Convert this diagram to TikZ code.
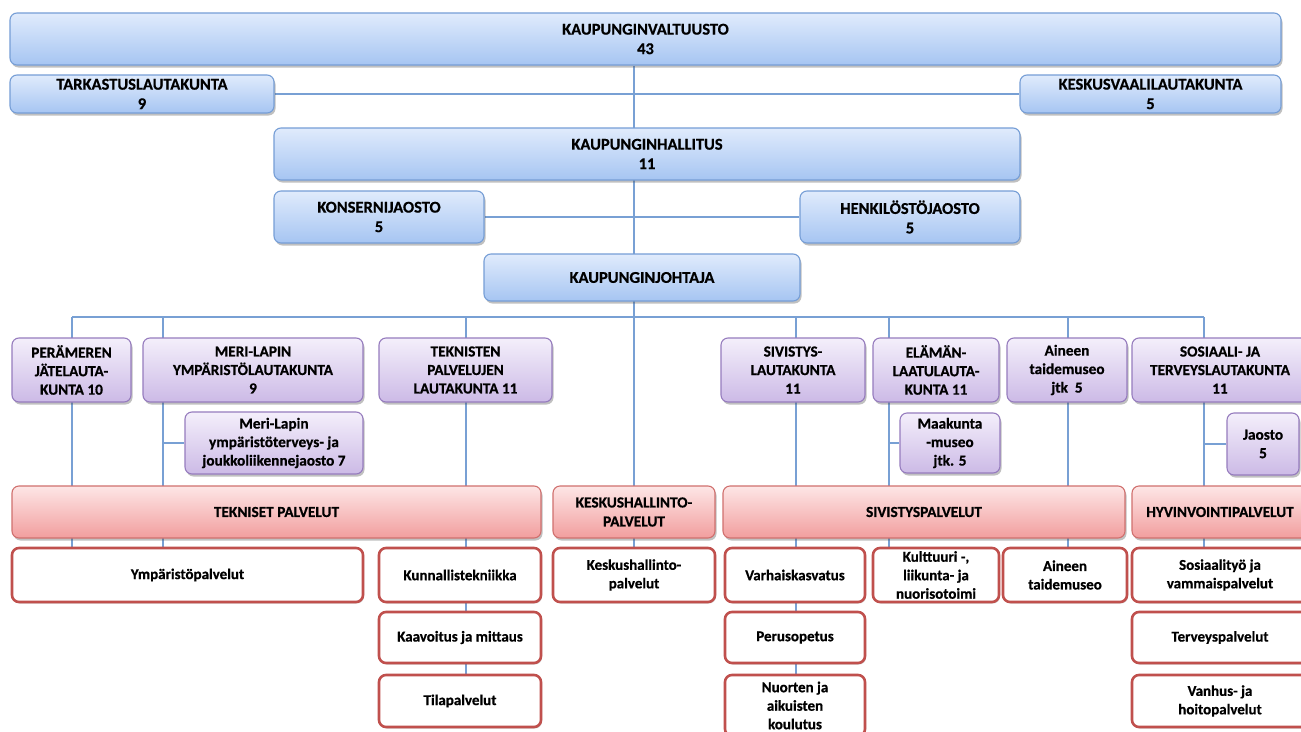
\documentclass[tikz,border=0pt]{standalone}
\usepackage{fontspec}
\setmainfont{Carlito}[BoldFeatures={FakeBold=0.6}]
\usetikzlibrary{shadows}
\pgfdeclarelayer{back}
\pgfdeclarelayer{bg}
\pgfsetlayers{back,bg,main}
\definecolor{conncol}{RGB}{120,160,212}
\definecolor{bluetop}{RGB}{224,235,252}
\definecolor{bluebot}{RGB}{166,197,242}
\definecolor{bluebd}{RGB}{118,158,214}
\definecolor{purtop}{RGB}{244,239,251}
\definecolor{purbot}{RGB}{204,186,230}
\definecolor{purbd}{RGB}{150,124,190}
\definecolor{redtop}{RGB}{253,230,230}
\definecolor{redbot}{RGB}{242,158,158}
\definecolor{redbd}{RGB}{208,112,110}
\definecolor{whitebd}{RGB}{192,80,77}
\tikzset{
  x=1pt, y=-1pt,
  basebox/.style={rounded corners=7pt, inner sep=0pt, align=center, text=black,
    font=\bfseries\fontsize{15}{18.5}\selectfont},
  bluebox/.style={basebox, draw=bluebd, line width=1.1pt, top color=bluetop, bottom color=bluebot,
    drop shadow={shadow xshift=1.5pt, shadow yshift=-2.5pt, opacity=.35, fill=black!70},
    font=\bfseries\fontsize{16.5}{19.5}\selectfont},
  purbox/.style={basebox, draw=purbd, line width=1.1pt, top color=purtop, bottom color=purbot,
    drop shadow={shadow xshift=1.5pt, shadow yshift=-2.5pt, opacity=.35, fill=black!70},
    font=\bfseries\fontsize{15.3}{18.5}\selectfont},
  redbox/.style={basebox, draw=redbd, line width=1.1pt, top color=redtop, bottom color=redbot,
    drop shadow={shadow xshift=1.5pt, shadow yshift=-2.5pt, opacity=.35, fill=black!70},
    font=\bfseries\fontsize{15.3}{19}\selectfont},
  whitebox/.style={basebox, draw=whitebd, line width=2.6pt, fill=white,
    drop shadow={shadow xshift=1pt, shadow yshift=-1.5pt, opacity=.25, fill=black!70}},
  conn/.style={draw=conncol, line width=1.4pt}
}
\newcommand{\bx}[7]{\node[#1, minimum width={(#5-#3)*1pt}, minimum height={(#6-#4)*1pt}] (#2) at ({(#3+#5)/2},{(#4+#6)/2}) {#7};}
\begin{document}
\begin{tikzpicture}
\useasboundingbox (0,0) rectangle (1301,731);
\begin{pgfonlayer}{back}
\fill[white] (0,0) rectangle (1301,731);
\end{pgfonlayer}
\clip (0,0) rectangle (1301,731);
% blue
\bx{bluebox}{kv}{10}{13}{1281}{65}{KAUPUNGINVALTUUSTO\\43}
\bx{bluebox}{tark}{10}{75}{274}{113}{TARKASTUSLAUTAKUNTA\\9}
\bx{bluebox}{ksv}{1020}{75}{1281}{113}{KESKUSVAALILAUTAKUNTA\\5}
\bx{bluebox}{kh}{274}{128}{1020}{180}{KAUPUNGINHALLITUS\\11}
\bx{bluebox}{kons}{274}{191}{484}{243}{KONSERNIJAOSTO\\5}
\bx{bluebox}{henk}{800}{191}{1020}{243}{HENKILÖSTÖJAOSTO\\5}
\bx{bluebox}{kj}{484}{254}{800}{301}{KAUPUNGINJOHTAJA}
% purple
\bx{purbox}{pera}{12}{338}{131}{402}{PERÄMEREN\\JÄTELAUTA-\\KUNTA 10}
\bx{purbox}{meri}{143}{338}{363}{402}{MERI-LAPIN\\YMPÄRISTÖLAUTAKUNTA\\9}
\bx{purbox}{tekl}{379}{338}{552}{402}{TEKNISTEN\\PALVELUJEN\\LAUTAKUNTA 11}
\bx{purbox}{sivl}{721}{338}{865}{402}{SIVISTYS-\\LAUTAKUNTA\\11}
\bx{purbox}{elal}{873}{338}{999}{402}{ELÄMÄN-\\LAATULAUTA-\\KUNTA 11}
\bx{purbox}{ainl}{1007}{338}{1127}{402}{Aineen\\taidemuseo\\jtk~~5}
\bx{purbox}{sosl}{1132}{338}{1308}{402}{SOSIAALI- JA\\TERVEYSLAUTAKUNTA\\11}
\bx{purbox}{msub}{185}{412}{363}{474}{Meri-Lapin\\ympäristöterveys- ja\\joukkoliikennejaosto 7}
\bx{purbox}{maak}{900}{413}{1000}{473}{Maakunta\\-museo\\jtk. 5}
\bx{purbox}{jaos}{1227}{413}{1299}{475}{Jaosto\\5}
% red headers
\bx{redbox}{tekp}{12}{486}{541}{538}{TEKNISET PALVELUT}
\bx{redbox}{kesp}{553}{486}{715}{538}{KESKUSHALLINTO-\\PALVELUT}
\bx{redbox}{sivp}{723}{486}{1125}{538}{SIVISTYSPALVELUT}
\bx{redbox}{hyvp}{1132}{486}{1308}{538}{HYVINVOINTIPALVELUT}
% white
\bx{whitebox}{ymp}{12}{548}{363}{602}{Ympäristöpalvelut}
\bx{whitebox}{kunn}{379}{548}{541}{602}{Kunnallistekniikka}
\bx{whitebox}{kesw}{553}{548}{715}{602}{Keskushallinto-\\palvelut}
\bx{whitebox}{varh}{725}{548}{865}{602}{Varhaiskasvatus}
\bx{whitebox}{kult}{873}{548}{999}{602}{Kulttuuri -,\\liikunta- ja\\nuorisotoimi}
\bx{whitebox}{ainw}{1003}{548}{1127}{602}{Aineen\\taidemuseo}
\bx{whitebox}{sosw}{1132}{548}{1308}{602}{Sosiaalityö ja\\vammaispalvelut}
\bx{whitebox}{kaav}{379}{612}{541}{663}{Kaavoitus ja mittaus}
\bx{whitebox}{peru}{725}{612}{865}{663}{Perusopetus}
\bx{whitebox}{terv}{1132}{612}{1308}{663}{Terveyspalvelut}
\bx{whitebox}{tila}{379}{675}{541}{727}{Tilapalvelut}
\bx{whitebox}{nuor}{725}{675}{865}{736}{Nuorten ja\\aikuisten\\koulutus}
\bx{whitebox}{vanh}{1132}{675}{1308}{727}{Vanhus- ja\\hoitopalvelut}
% connector anchors
\coordinate (v1) at (72,317);
\coordinate (v2) at (163,317);
\coordinate (v3) at (466,317);
\coordinate (vc) at (634,317);
\coordinate (v5) at (796,317);
\coordinate (v6) at (889,317);
\coordinate (v7) at (1068,317);
\coordinate (v8) at (1204,317);
\begin{pgfonlayer}{bg}
\draw[conn] (kv.south -| vc) -- (kesw.north -| vc);
\draw[conn] (tark.east) -- (ksv.west);
\draw[conn] (kons.east) -- (henk.west);
\draw[conn] (v1) -- (v8);
\draw[conn] (v1) -- (ymp.north -| v1);
\draw[conn] (v2) -- (ymp.north -| v2);
\draw[conn] (v3) -- (tila.north -| v3);
\draw[conn] (v5) -- (nuor.north -| v5);
\draw[conn] (v6) -- (kult.north -| v6);
\draw[conn] (v7) -- (ainw.north -| v7);
\draw[conn] (v8) -- (sosw.north -| v8);
\draw[conn] (msub.west -| v2) -- (msub.west);
\draw[conn] (maak.west -| v6) -- (maak.west);
\draw[conn] (jaos.west -| v8) -- (jaos.west);
\end{pgfonlayer}
\end{tikzpicture}
\end{document}
